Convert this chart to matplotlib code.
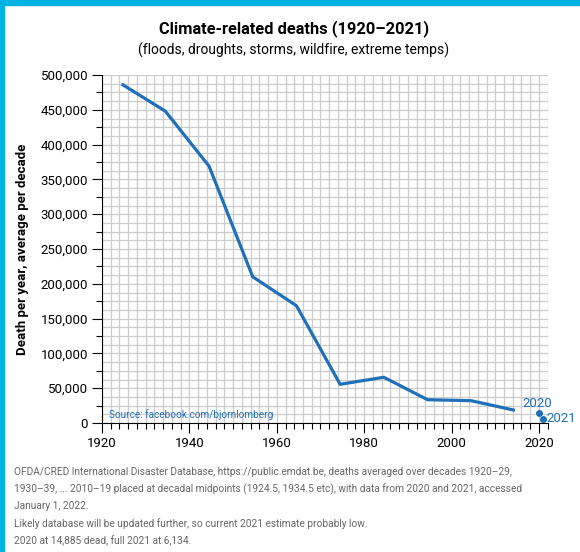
import matplotlib
matplotlib.use("Agg")
import matplotlib.pyplot as plt
from matplotlib.ticker import MultipleLocator, FuncFormatter
from matplotlib.patches import Rectangle

plt.rcParams['font.family'] = ['Roboto', 'DejaVu Sans']

years = [1924.5, 1934.5, 1944.5, 1954.5, 1964.5, 1974.5, 1984.5, 1994.5, 2004.5, 2014.5]
deaths = [487000, 448000, 369000, 210000, 168500, 55600, 65700, 33500, 32000, 18200]
recent_years = [2020, 2021]
recent_deaths = [14885, 6134]
recent_labels = ["2020", "2021"]
x_ticks = [1920, 1940, 1960, 1980, 2000, 2020]
y_ticks = [0, 50000, 100000, 150000, 200000, 250000, 300000, 350000, 400000, 450000, 500000]

blue = "#1f6fb9"

fig = plt.figure(figsize=(5.8, 5.52), dpi=100)
ax = fig.add_axes([102/580, 1-423/552, (547.7-102)/580, (423-75)/552])

ax.plot(years, deaths, color=blue, lw=2.3, solid_capstyle='butt', zorder=3)
ax.plot(recent_years, recent_deaths, 'o', color=blue, ms=4, zorder=3, linestyle='none')
ax.text(recent_years[0] - 0.3, recent_deaths[0] + 3500, recent_labels[0], color=blue,
        fontsize=9.5, ha='center', va='bottom')
ax.text(recent_years[1] + 0.8, recent_deaths[1], recent_labels[1], color=blue,
        fontsize=9.5, ha='left', va='center')

ax.set_xlim(1920, 2022)
ax.set_ylim(0, 500000)
ax.set_xticks(x_ticks)
ax.set_yticks(y_ticks)
ax.xaxis.set_minor_locator(MultipleLocator(2))
ax.yaxis.set_minor_locator(MultipleLocator(25000))
ax.yaxis.set_major_formatter(FuncFormatter(lambda v, p: f"{int(v):,}"))

# grid
for gx in range(1920, 2023, 2):
    ax.axvline(gx, color="#cccccc", lw=0.9, zorder=1)
gy = 0
while gy <= 500000:
    ax.axhline(gy, color="#cccccc", lw=0.9, zorder=1)
    gy += 12500

for s in ['top', 'right']:
    ax.spines[s].set_visible(False)
ax.spines['left'].set_color('black')
ax.spines['bottom'].set_color('black')
ax.spines['left'].set_zorder(4)
ax.spines['bottom'].set_zorder(4)
ax.tick_params(which='major', direction='out', length=7, width=0.8, labelsize=9.5, colors='black', pad=3)
ax.tick_params(which='minor', direction='out', length=4, width=0.8)

ax.set_ylabel("Death per year, average per decade", fontsize=9.5, fontweight='bold', labelpad=8)

ax.text(1921.5, 5000, "Source: facebook.com/bjornlomberg", color=blue, fontsize=7.2,
        ha='left', va='bottom', zorder=5)

fig.text(0.507, 1-29/552, "Climate-related deaths (1920–2021)", ha='center', va='center',
         fontsize=11.8, fontweight='bold')
fig.text(0.507, 1-50/552, "(floods, droughts, storms, wildfire, extreme temps)", ha='center',
         va='center', fontsize=10)

foot = ("OFDA/CRED International Disaster Database, https://public.emdat.be, deaths averaged over decades 1920–29,\n"
        "1930–39, ... 2010–19 placed at decadal midpoints (1924.5, 1934.5 etc), with data from 2020 and 2021, accessed\n"
        "January 1, 2022.\n"
        "Likely database will be updated further, so current 2021 estimate probably low.\n"
        "2020 at 14,885 dead, full 2021 at 6,134.")
fig.text(14/580, 1-467/552, foot, ha='left', va='top', fontsize=7.3, color="#666666", linespacing=1.75)

# border
fig.patches.append(Rectangle((0, 0), 4/580, 1, transform=fig.transFigure, color="#00b3e3", zorder=10))
fig.patches.append(Rectangle((0, 1-5/552), 1, 5/552, transform=fig.transFigure, color="#00b3e3", zorder=10))

fig.savefig("out.png", dpi=100)
